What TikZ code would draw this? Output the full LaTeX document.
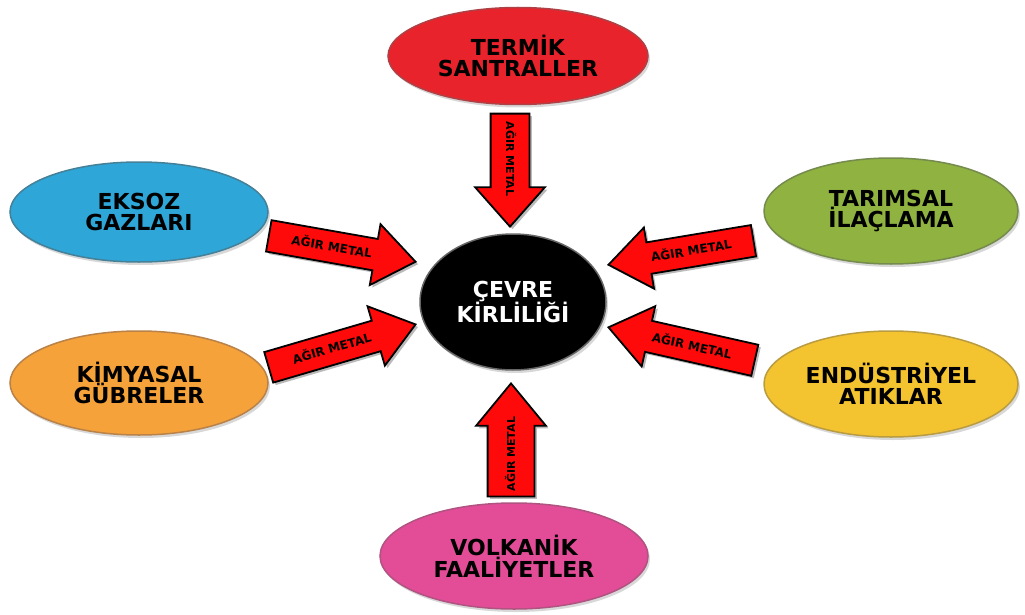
\documentclass[tikz,border=0pt]{standalone}
\usepackage{fontspec}
\setmainfont{DejaVu Sans}
\usetikzlibrary{shapes.geometric,shapes.arrows,shadows}
\definecolor{redin}{HTML}{E8232B}\definecolor{redout}{HTML}{9A1218}
\definecolor{bluein}{HTML}{2EA6D8}\definecolor{blueout}{HTML}{17607F}
\definecolor{orangein}{HTML}{F6A23A}\definecolor{orangeout}{HTML}{A8631A}
\definecolor{greenin}{HTML}{8FB240}\definecolor{greenout}{HTML}{536D20}
\definecolor{yellowin}{HTML}{F3C330}\definecolor{yellowout}{HTML}{A88312}
\definecolor{pinkin}{HTML}{E34C97}\definecolor{pinkout}{HTML}{9C2862}
\definecolor{arrred}{HTML}{FF0A0A}
\makeatletter
\pgfdeclareradialshading[tikz@radial@inner,tikz@radial@outer]{rim}{\pgfpointorigin}{color(0bp)=(tikz@radial@inner); color(30bp)=(tikz@radial@inner); color(50bp)=(tikz@radial@outer)}
\makeatother
\begin{document}
\begin{tikzpicture}[x=1pt,y=-1pt,
  bub/.style={ellipse, inner sep=0pt, align=center, text=black, line width=1.5pt,
    font={\fontsize{22}{20.5}\selectfont\bfseries},
    drop shadow={opacity=0.3, shadow xshift=2pt, shadow yshift=-3pt}},
  arr/.style={single arrow, fill=arrred, draw=black, line width=1.8pt,
    font={\fontsize{11}{11}\selectfont\bfseries}, text height=8pt, text depth=0pt,
    inner xsep=2pt, anchor=tip,
    drop shadow={opacity=0.45, fill=black!60, shadow xshift=2.5pt, shadow yshift=-2.5pt}},
  diag/.style={arr, font={\fontsize{12}{12}\selectfont\bfseries}, text height=8.5pt,
    inner ysep=10.75pt, single arrow head extend=15pt, single arrow tip angle=74}]
\fill[white] (0,0) rectangle (1025,615);
\useasboundingbox (0,0) rectangle (1025,615);

\node[bub, minimum width=260pt, minimum height=97pt, draw=redout!80, inner color=redin, outer color=redout, shading=rim] (termik) at (518,56) {TERMİK\\SANTRALLER};
\node[bub, minimum width=258pt, minimum height=100pt, draw=blueout!80, inner color=bluein, outer color=blueout, shading=rim] (eksoz) at (139,212) {EKSOZ\\GAZLARI};
\node[bub, minimum width=258pt, minimum height=104pt, draw=orangeout!80, inner color=orangein, outer color=orangeout, shading=rim] (kimya) at (139,383) {KİMYASAL\\GÜBRELER};
\node[bub, minimum width=254pt, minimum height=106pt, draw=greenout!80, inner color=greenin, outer color=greenout, shading=rim] (tarim) at (891,211) {TARIMSAL\\İLAÇLAMA};
\node[bub, minimum width=254pt, minimum height=106pt, draw=yellowout!80, inner color=yellowin, outer color=yellowout, shading=rim] (endus) at (891,384) {ENDÜSTRİYEL\\ATIKLAR};
\node[bub, minimum width=268pt, minimum height=106pt, draw=pinkout!80, inner color=pinkin, outer color=pinkout, shading=rim] (volkan) at (514,556) {VOLKANİK\\FAALİYETLER};
\node[bub, minimum width=186pt, minimum height=136pt, draw=black!60, inner color=black, outer color=black!50, shading=rim, text=white, font={\fontsize{22}{24}\selectfont\bfseries}] (cevre) at (513,302) {ÇEVRE\\KİRLİLİĞİ};

\node[arr, rotate=-90, minimum height=113pt, inner ysep=14.5pt, single arrow head extend=15.5pt, single arrow tip angle=83] (aT) at (510,228) {AĞIR METAL};
\node[arr, rotate=90, minimum height=113pt, inner ysep=18.5pt, single arrow head extend=11.5pt, single arrow tip angle=79] (aB) at (511,382) {AĞIR METAL};
\node[diag, rotate=-10, minimum height=149pt] (aUL) at (417,262) {AĞIR METAL};
\node[diag, rotate=16.3, minimum height=153pt] (aLL) at (417,324) {AĞIR METAL};
\node[diag, shape border rotate=180, rotate=9.4, minimum height=147pt] (aUR) at (607,265) {AĞIR METAL};
\node[diag, shape border rotate=180, rotate=-12.7, minimum height=150pt] (aLR) at (607,327) {AĞIR METAL};
\end{tikzpicture}
\end{document}
